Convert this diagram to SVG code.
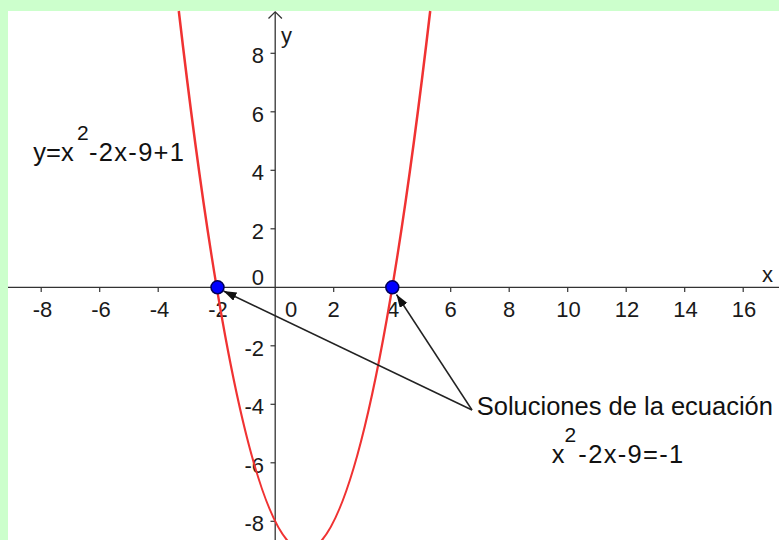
<svg xmlns="http://www.w3.org/2000/svg" width="779" height="540" viewBox="0 0 779 540">
<style>
.tick{stroke:#333;stroke-width:1.2}
.ax{stroke:#333;stroke-width:1.3;fill:none}
.tl{font-family:"Liberation Sans",Arial,sans-serif;font-size:22px;fill:#1a1a1a}
.lab{font-family:"Liberation Sans",Arial,sans-serif;font-size:25.5px;fill:#111}
.sup{font-family:"Liberation Sans",Arial,sans-serif;font-size:21px;fill:#111}
.conn{stroke:#222;stroke-width:1.5;fill:none}
.pt{fill:#0000ff;stroke:#00005a;stroke-width:1.5}
</style>
<defs>
<marker id="ah" markerUnits="userSpaceOnUse" markerWidth="14" markerHeight="10" refX="13" refY="4.5" orient="auto">
<path d="M0,0 L13,4.5 L0,9 z" fill="#111"/>
</marker>
</defs>
<rect x="0" y="0" width="779" height="540" fill="#ccffcc"/>
<rect x="8" y="11" width="771" height="529" fill="#ffffff"/>
<g id="axes">
<line class="ax" x1="8" y1="287.3" x2="779" y2="287.3"/>
<line class="ax" x1="275.2" y1="12" x2="275.2" y2="540"/>
<path class="ax" d="M268.5,18.5 L275.2,11.8 L281.9,18.5"/>
<g class="tick">
<line x1="41.2" y1="287.3" x2="41.2" y2="292"/>
<line x1="99.7" y1="287.3" x2="99.7" y2="292"/>
<line x1="158.2" y1="287.3" x2="158.2" y2="292"/>
<line x1="216.7" y1="287.3" x2="216.7" y2="292"/>
<line x1="333.7" y1="287.3" x2="333.7" y2="292"/>
<line x1="392.2" y1="287.3" x2="392.2" y2="292"/>
<line x1="450.7" y1="287.3" x2="450.7" y2="292"/>
<line x1="509.2" y1="287.3" x2="509.2" y2="292"/>
<line x1="567.7" y1="287.3" x2="567.7" y2="292"/>
<line x1="626.2" y1="287.3" x2="626.2" y2="292"/>
<line x1="684.7" y1="287.3" x2="684.7" y2="292"/>
<line x1="743.2" y1="287.3" x2="743.2" y2="292"/>
<line x1="270.5" y1="53.3" x2="275.2" y2="53.3"/>
<line x1="270.5" y1="111.8" x2="275.2" y2="111.8"/>
<line x1="270.5" y1="170.3" x2="275.2" y2="170.3"/>
<line x1="270.5" y1="228.8" x2="275.2" y2="228.8"/>
<line x1="270.5" y1="345.8" x2="275.2" y2="345.8"/>
<line x1="270.5" y1="404.3" x2="275.2" y2="404.3"/>
<line x1="270.5" y1="462.8" x2="275.2" y2="462.8"/>
<line x1="270.5" y1="521.3" x2="275.2" y2="521.3"/>
</g>
<g class="tl" text-anchor="middle">
<text x="42.5" y="317">-8</text>
<text x="101" y="317">-6</text>
<text x="159.5" y="317">-4</text>
<text x="218" y="317">-2</text>
<text x="291" y="317">0</text>
<text x="333.7" y="317">2</text>
<text x="393" y="317">4</text>
<text x="450.7" y="317">6</text>
<text x="509.2" y="317">8</text>
<text x="568.5" y="317">10</text>
<text x="627" y="317">12</text>
<text x="685.5" y="317">14</text>
<text x="744" y="317">16</text>
</g>
<g class="tl" text-anchor="end">
<text x="264" y="63.3">8</text>
<text x="264" y="121.8">6</text>
<text x="264" y="180.3">4</text>
<text x="264" y="238.8">2</text>
<text x="264" y="285">0</text>
<text x="264" y="355.8">-2</text>
<text x="264" y="414.3">-4</text>
<text x="264" y="472.8">-6</text>
<text x="264" y="531.3">-8</text>
</g>
<text class="tl" x="281" y="43" font-size="23px">y</text>
<text class="tl" x="762" y="282" font-size="23px">x</text>
</g>
<g id="curve">
<path d="M178.8,11 Q304.45,1090.1 430.2,11" fill="none" stroke="#f03232" stroke-width="2.5"/>
</g>
<g id="connectors">
<line class="conn" x1="472" y1="410" x2="223.5" y2="291" marker-end="url(#ah)"/>
<line class="conn" x1="472" y1="410" x2="396.5" y2="294.5" marker-end="url(#ah)"/>
</g>
<g id="point-A"><circle class="pt" cx="217.5" cy="287.3" r="6.5"/></g>
<g id="point-B"><circle class="pt" cx="392.3" cy="287.3" r="6.5"/></g>
<g id="label-function">
<text class="lab" x="33.3" y="161">y=x</text>
<text class="sup" x="77" y="140">2</text>
<text class="lab" x="89" y="161" textLength="95" lengthAdjust="spacing">-2x-9+1</text>
</g>
<g id="label-solutions">
<text class="lab" x="551.7" y="463">x</text>
<text class="sup" x="564.5" y="441.7">2</text>
<text class="lab" x="578.3" y="463" textLength="105" lengthAdjust="spacing">-2x-9=-1</text>
<text class="lab" x="476.7" y="415">Soluciones de la ecuación</text>
</g>
</svg>
